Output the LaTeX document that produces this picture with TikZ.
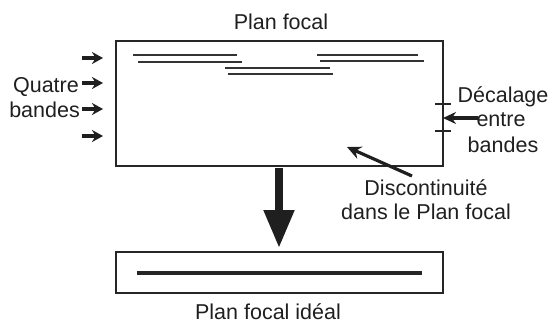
\documentclass[tikz,border=0pt]{standalone}
\usepackage{fontspec}
\setmainfont{Liberation Sans}
\usetikzlibrary{arrows.meta}
\begin{document}
\begin{tikzpicture}[x=1pt,y=-1pt,
  lbl/.style={font=\fontsize{21.5}{24}\selectfont, text=black!88, inner sep=0pt, align=center},
  frame/.style={draw=black!85, line width=2.4pt, inner sep=0pt},
  band/.style={draw=black!80, line width=2.2pt},
  smallarr/.style={draw=black!88, line width=3.4pt, -{Stealth[length=11pt,width=12pt]}},
  tick/.style={draw=black!85, line width=2.2pt}]
\useasboundingbox (0,0) rectangle (551,322);
% frames
\node[frame, minimum width=327pt, minimum height=125pt] (top) at (279.5,103.5) {};
\node[frame, minimum width=327pt, minimum height=41pt] (bot) at (279.5,272.5) {};
% titles
\node[lbl, anchor=base] (ttop) at (281,29) {Plan focal};
\node[lbl, anchor=base] (tbot) at (268,319) {Plan focal idéal};
% bands in top frame
\coordinate (a1) at (133,55); \coordinate (b1) at (237,55);
\coordinate (a2) at (138,62); \coordinate (b2) at (242,62);
\coordinate (a3) at (317,55); \coordinate (b3) at (418,55);
\coordinate (a4) at (320,61); \coordinate (b4) at (424,61);
\coordinate (a5) at (225,68); \coordinate (b5) at (330,68);
\coordinate (a6) at (228,74); \coordinate (b6) at (333,74);
\foreach \i in {1,...,6} \draw[band] (a\i) -- (b\i);
% ideal line
\coordinate (i1) at (137,273); \coordinate (i2) at (422,273);
\draw[draw=black!85, line width=3.6pt] (i1) -- (i2);
% left arrows
\foreach \y/\n in {58/1,83/2,109/3,136/4} {
  \coordinate (ls\n) at (82,\y); \coordinate (le\n) at (103,\y);
  \draw[smallarr] (ls\n) -- (le\n);
}
\node[lbl, anchor=base east] (quatre) at (79,92) {Quatre};
\node[lbl, anchor=base east] (bandes) at (80,117) {bandes};
% right ticks and arrow
\coordinate (t1a) at (435,104); \coordinate (t1b) at (451,104);
\coordinate (t2a) at (435,131); \coordinate (t2b) at (451,131);
\draw[tick] (t1a) -- (t1b);
\draw[tick] (t2a) -- (t2b);
\coordinate (rs) at (478,118); \coordinate (re) at (443,118);
\draw[draw=black!88, line width=3.2pt, -{Stealth[length=13pt,width=12pt]}] (rs) -- (re);
\node[lbl, anchor=base] (dec) at (503,102) {Décalage};
\node[lbl, anchor=base] (entre) at (501,126) {entre};
\node[lbl, anchor=base] (bandes2) at (503,152) {bandes};
% discontinuity
\node[lbl, anchor=base] (disc1) at (426,195) {Discontinuité};
\node[lbl, anchor=base] (disc2) at (426,219) {dans le Plan focal};
\coordinate (ds) at (412,176); \coordinate (de) at (347,147);
\draw[draw=black!88, line width=3.2pt, -{Stealth[length=14pt,width=13pt]}] (ds) -- (de);
% big arrow
\draw[draw=black!88, line width=8pt, -{Triangle[length=38pt,width=29pt]}] (top.south -| 279,0) ++(0,1) -- (279,248);
\end{tikzpicture}
\end{document}
